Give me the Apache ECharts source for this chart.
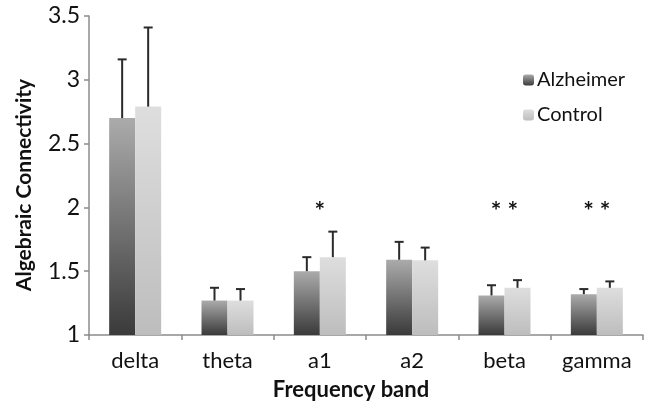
<!DOCTYPE html>
<html><head><meta charset="utf-8">
<script src="https://cdn.jsdelivr.net/npm/echarts@6/dist/echarts.min.js"></script>
<style>html,body{margin:0;padding:0;background:#fff}#c{width:648px;height:407px}</style>
</head><body><div id="c"></div>
<script>
const categories = ["delta", "theta", "a1", "a2", "beta", "gamma"];
const alzheimer = [2.70, 1.27, 1.50, 1.59, 1.31, 1.32];
const alzheimerErr = [3.16, 1.37, 1.61, 1.73, 1.39, 1.36];
const control = [2.79, 1.27, 1.61, 1.585, 1.37, 1.37];
const controlErr = [3.41, 1.36, 1.81, 1.685, 1.43, 1.42];
const stars = ["", "", "*", "", "* *", "* *"];
const starLevel = 1.965;
const yTicks = [1, 1.5, 2, 2.5, 3, 3.5];
const yTitle = "Algebraic Connectivity";
const xTitle = "Frequency band";

const FONT = "Lato";
const chart = echarts.init(document.getElementById('c'));

function errSeries(name, tops, vals, offset) {
  return {
    type: 'custom', name: name + ' err', silent: true, z: 5,
    data: categories.map((c, i) => [i, vals[i], tops[i]]),
    renderItem: function (params, api) {
      const i = api.value(0);
      const p0 = api.coord([i, api.value(1)]);
      const p1 = api.coord([i, api.value(2)]);
      const x = p0[0] + offset;
      return {
        type: 'group', children: [
          {type: 'line', shape: {x1: x, y1: p0[1], x2: x, y2: p1[1]}, style: {stroke: '#2a2a2a', lineWidth: 2}},
          {type: 'line', shape: {x1: x - 4.5, y1: p1[1], x2: x + 4.5, y2: p1[1]}, style: {stroke: '#2a2a2a', lineWidth: 2}}
        ]
      };
    }
  };
}

chart.setOption({
  animation: false,
  grid: {left: 89, right: 5, top: 16, bottom: 72},
  graphic: [{
    type: 'text', x: 24, y: 185, rotation: Math.PI / 2,
    style: {text: yTitle, fontFamily: FONT, fontSize: 21, fontWeight: 'bold', fill: '#111',
      align: 'center', verticalAlign: 'middle'}
  }],
  legend: {
    orient: 'vertical', left: 518, top: 65, itemWidth: 11, itemHeight: 11, itemGap: 15,
    data: ['Alzheimer', 'Control'],
    textStyle: {fontFamily: FONT, fontSize: 20, color: '#111', padding: [0, 0, 0, -2]}
  },
  xAxis: {
    type: 'category', data: categories,
    axisLine: {lineStyle: {color: '#8c8c8c', width: 1.5}},
    axisTick: {show: true, length: 5, lineStyle: {color: '#8c8c8c', width: 1.5}},
    axisLabel: {fontFamily: FONT, fontSize: 22, color: '#111', margin: 15},
    name: xTitle, nameLocation: 'middle', nameGap: 44,
    nameTextStyle: {fontFamily: FONT, fontSize: 22, fontWeight: 'bold', color: '#111', padding: [0, 30, 0, 0]}
  },
  yAxis: {
    type: 'value', min: yTicks[0], max: yTicks[yTicks.length - 1], interval: 0.5,
    axisLine: {show: true, lineStyle: {color: '#8c8c8c', width: 1.5}},
    axisTick: {show: true, length: 5, lineStyle: {color: '#8c8c8c', width: 1.5}},
    splitLine: {show: false},
    axisLabel: {fontFamily: FONT, fontSize: 23, color: '#111', margin: 9}
  },
  series: [
    {
      name: 'Alzheimer', type: 'bar', data: alzheimer, barWidth: 26, barGap: '0%',
      itemStyle: {color: new echarts.graphic.LinearGradient(0, 0, 0, 1, [
        {offset: 0, color: '#ababab'}, {offset: 1, color: '#3a3a3a'}])}
    },
    {
      name: 'Control', type: 'bar', data: control, barWidth: 26,
      itemStyle: {color: new echarts.graphic.LinearGradient(0, 0, 0, 1, [
        {offset: 0, color: '#dedede'}, {offset: 1, color: '#bdbdbd'}])}
    },
    errSeries('Alzheimer', alzheimerErr, alzheimer, -13),
    errSeries('Control', controlErr, control, 13),
    {
      type: 'custom', silent: true, z: 6,
      data: categories.map((c, i) => [i, starLevel, stars[i]]),
      renderItem: function (params, api) {
        const p = api.coord([api.value(0), api.value(1)]);
        return {type: 'text', style: {x: p[0], y: p[1], text: stars[params.dataIndex], fill: '#111',
          fontFamily: FONT, fontSize: 25, fontWeight: 'bold', align: 'center', verticalAlign: 'middle'}};
      }
    }
  ]
});
</script></body></html>
